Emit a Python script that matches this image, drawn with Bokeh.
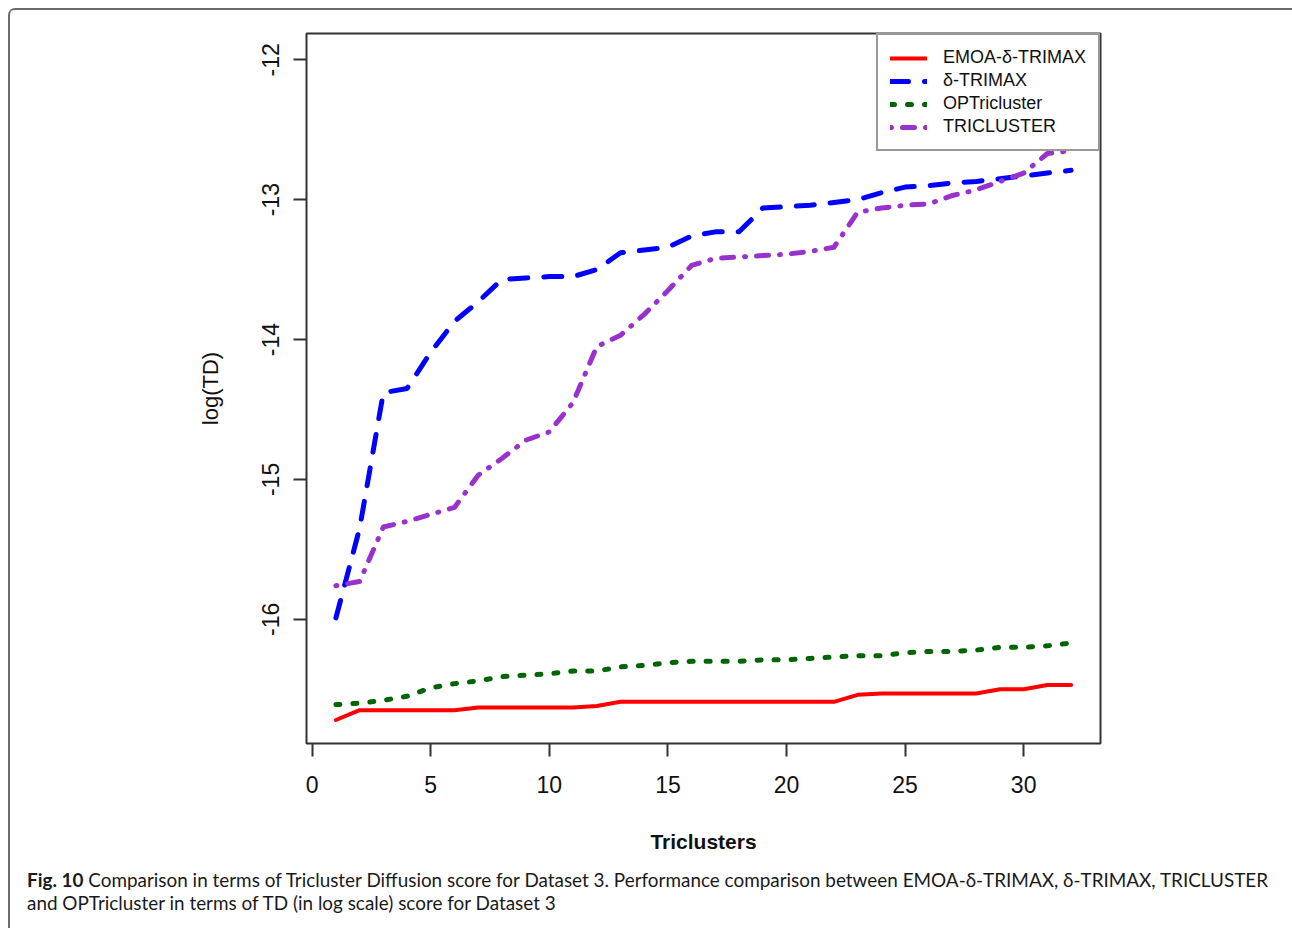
import math
from bokeh.plotting import figure
from bokeh.layouts import column
from bokeh.models import (FixedTicker, Legend, LegendItem, Range1d, Div)
from bokeh.embed import file_html
from bokeh.resources import INLINE

# ---------------- data ----------------
triclusters = list(range(1, 33))

emoa_delta_trimax = [-16.72, -16.65, -16.65, -16.65, -16.65, -16.65, -16.63, -16.63,
                     -16.63, -16.63, -16.63, -16.62, -16.59, -16.59, -16.59, -16.59,
                     -16.59, -16.59, -16.59, -16.59, -16.59, -16.59, -16.54, -16.53,
                     -16.53, -16.53, -16.53, -16.53, -16.50, -16.50, -16.47, -16.47]

delta_trimax = [-15.99, -15.35, -14.38, -14.35, -14.09, -13.87, -13.73, -13.57,
                -13.56, -13.55, -13.55, -13.50, -13.38, -13.36, -13.34, -13.26,
                -13.23, -13.23, -13.06, -13.05, -13.04, -13.02, -13.00, -12.95,
                -12.91, -12.90, -12.88, -12.87, -12.85, -12.83, -12.81, -12.79]

optricluster = [-16.61, -16.60, -16.58, -16.55, -16.49, -16.46, -16.44, -16.41,
                -16.40, -16.39, -16.37, -16.37, -16.34, -16.33, -16.31, -16.30,
                -16.30, -16.30, -16.29, -16.29, -16.28, -16.27, -16.26, -16.26,
                -16.24, -16.23, -16.23, -16.22, -16.20, -16.20, -16.19, -16.17]

tricluster = [-15.76, -15.73, -15.34, -15.30, -15.25, -15.20, -14.97, -14.85,
              -14.72, -14.66, -14.45, -14.05, -13.97, -13.82, -13.65, -13.47,
              -13.42, -13.41, -13.40, -13.39, -13.37, -13.34, -13.09, -13.06,
              -13.04, -13.03, -12.97, -12.93, -12.87, -12.81, -12.67, -12.65]

series_names = ["EMOA-δ-TRIMAX", "δ-TRIMAX", "OPTricluster", "TRICLUSTER"]
x_ticks = [0, 5, 10, 15, 20, 25, 30]
y_ticks = [-16, -15, -14, -13, -12]
y_tick_labels = ["-16", "-15", "-14", "-13", "-12"]

x_label = "Triclusters"
y_label = "log(TD)"
caption_bold = "Fig. 10"
caption_line1 = ("Comparison in terms of Tricluster Diffusion score for Dataset 3. "
                 "Performance comparison between EMOA-δ-TRIMAX, δ-TRIMAX, TRICLUSTER")
caption_line2 = "and OPTricluster in terms of TD (in log scale) score for Dataset 3"

# ---------------- layout geometry (page pixels) ----------------
BORDER = 2
MARGIN = 8
OX = OY = MARGIN + BORDER   # figure origin inside the bordered panel
FRAME_L, FRAME_R = 306, 1100
FRAME_T, FRAME_B = 33, 743
FIG_W = 1292 - OX
FIG_H = 860 - OY

p = figure(width=FIG_W, height=FIG_H, output_backend="svg", toolbar_location=None,
           x_range=Range1d(-0.24, 33.24), y_range=Range1d(-16.888, -11.812),
           min_border_left=FRAME_L - OX, min_border_right=FIG_W - (FRAME_R - OX),
           min_border_top=FRAME_T - OY, min_border_bottom=FIG_H - (FRAME_B - OY),
           margin=0)
p.background_fill_color = "white"
p.border_fill_color = "white"
p.outline_line_color = "#333333"
p.outline_line_width = 2
p.xgrid.visible = False
p.ygrid.visible = False

for ax in (p.xaxis[0], p.yaxis[0]):
    ax.axis_line_color = None
    ax.major_tick_line_color = "#333333"
    ax.major_tick_line_width = 2
    ax.major_tick_in = 0
    ax.major_tick_out = 13
    ax.minor_tick_line_color = None
    ax.major_label_text_font = "Liberation Sans"
    ax.major_label_text_font_size = "23px"
    ax.major_label_text_color = "#111111"
    ax.axis_label_text_font = "Liberation Sans"
    ax.axis_label_text_color = "#111111"

p.xaxis[0].ticker = FixedTicker(ticks=x_ticks)
p.yaxis[0].ticker = FixedTicker(ticks=y_ticks)
p.yaxis[0].major_label_overrides = dict(zip(y_ticks, y_tick_labels))
p.xaxis[0].axis_label = x_label
p.yaxis[0].axis_label = y_label
p.xaxis[0].axis_label_text_font_style = "bold"
p.xaxis[0].axis_label_text_font_size = "21px"
p.yaxis[0].axis_label_text_font_style = "normal"
p.yaxis[0].axis_label_text_font_size = "22px"
p.xaxis[0].major_label_standoff = 19
p.xaxis[0].axis_label_standoff = 34
p.yaxis[0].major_label_orientation = "parallel"
p.yaxis[0].major_label_standoff = 14
p.yaxis[0].axis_label_standoff = 37

r1 = p.line(triclusters, emoa_delta_trimax, line_color="#ff0000", line_width=4,
            line_cap="round", line_join="round")
r2 = p.line(triclusters, delta_trimax, line_color="#0000ff", line_width=5,
            line_dash="18 16", line_cap="round", line_join="round")
r3 = p.line(triclusters, optricluster, line_color="#006400", line_width=5,
            line_dash="4 13", line_cap="round", line_join="round")
r4 = p.line(triclusters, tricluster, line_color="#9932cc", line_width=5,
            line_dash="1 11 12 11", line_cap="round", line_join="round")

legend = Legend(items=[LegendItem(label=n, renderers=[r]) for n, r in
                       zip(series_names, [r1, r2, r3, r4])],
                location="top_right", margin=0, padding=12, spacing=2,
                glyph_width=37, glyph_height=20, label_height=20,
                label_standoff=16,
                label_text_font="Liberation Sans", label_text_font_size="18px",
                label_text_color="#111111",
                border_line_color="#333333", border_line_width=2,
                background_fill_color="white", background_fill_alpha=1)
p.add_layout(legend)

caption_html = (
    '<div style="padding:8px 0 0 17px; white-space:nowrap; font-family:Lato, sans-serif;'
    ' font-size:18.9px; line-height:23px; color:#1a1a1a;">'
    f'<b>{caption_bold}</b> {caption_line1}<br>{caption_line2}</div>'
)
caption = Div(text=caption_html, width=FIG_W, height=929 - 860 - 1, margin=0)

layout = column(p, caption, margin=(MARGIN, 0, 0, MARGIN), spacing=0,
                styles={"border-top": f"{BORDER}px solid #6a6a6a",
                        "border-left": f"{BORDER}px solid #6a6a6a",
                        "border-top-left-radius": "7px",
                        "background-color": "white"})

open("out.html", "w").write(file_html(layout, INLINE))
